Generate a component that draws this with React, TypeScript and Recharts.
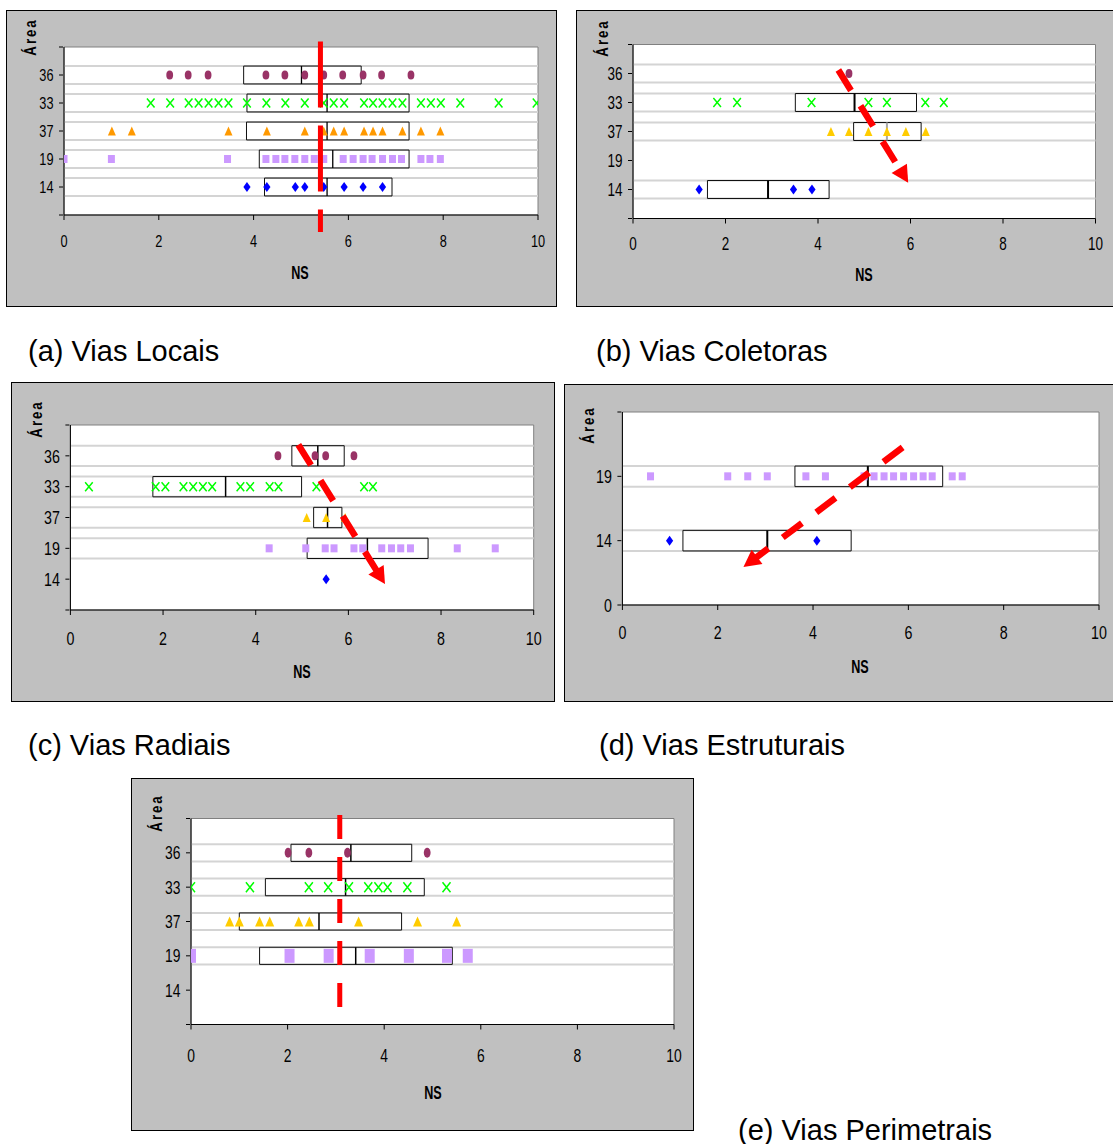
import React from 'react'
import { ScatterChart, Scatter, XAxis, YAxis, ReferenceArea, ReferenceLine } from 'recharts'

const SANS = '"Liberation Sans", Arial, sans-serif'
const SQUEEZE = 0.75

const nsTicks = [0, 2, 4, 6, 8, 10]
// y position 1..5, bottom to top
const areaLabels = ['', '14', '19', '37', '33', '36', '']
const areaTicks = [0, 1, 2, 3, 4, 5, 6]
const estLabels = ['0', '14', '19', '']
const estTicks = [0, 1, 2, 3]

// (a) Vias Locais
const locais36 = [2.23, 2.62, 3.04, 4.26, 4.66, 5.08, 5.48, 5.88, 6.31, 6.7, 7.32]
const locais33 = [1.83, 2.24, 2.63, 2.84, 3.05, 3.26, 3.47, 3.86, 4.27, 4.67, 5.08, 5.48, 5.69, 5.91, 6.33, 6.52, 6.72, 6.93, 7.14, 7.53, 7.74, 7.95, 8.36, 9.17, 9.97]
const locais37 = [1.01, 1.43, 3.47, 4.28, 5.08, 5.48, 5.69, 5.91, 6.33, 6.52, 6.72, 7.14, 7.53, 7.94]
const locais19 = [0, 1.0, 3.45, 4.26, 4.47, 4.66, 4.87, 5.08, 5.28, 5.48, 5.89, 6.1, 6.31, 6.5, 6.72, 6.93, 7.12, 7.53, 7.72, 7.94]
const locais14 = [3.86, 4.28, 4.88, 5.08, 5.48, 5.91, 6.31, 6.72]
const locaisBoxes = [[3.79, 5.01, 6.27], [3.86, 5.55, 7.28], [3.85, 5.55, 7.28], [4.12, 5.67, 7.28], [4.23, 5.55, 6.92]]
const locaisMedia = 5.41

// (b) Vias Coletoras
const coletoras36 = [4.67]
const coletoras33 = [1.82, 2.25, 3.86, 5.09, 5.49, 6.32, 6.72]
const coletoras37 = [4.28, 4.67, 5.09, 5.49, 5.9, 6.33]
const coletoras19: number[] = []
const coletoras14 = [1.43, 3.47, 3.87]
const coletorasBoxes = [null, [3.51, 4.79, 6.13], [4.77, 5.49, 6.23], null, [1.61, 2.92, 4.24]]
const coletorasSeta = [4.44, 5.12, 5.95, 1.23]

// (c) Vias Radiais
const radiais36 = [4.48, 5.28, 5.51, 6.12]
const radiais33 = [0.4, 1.84, 2.05, 2.44, 2.65, 2.86, 3.06, 3.67, 3.88, 4.3, 4.49, 5.31, 6.34, 6.53]
const radiais37 = [5.1, 5.52, 5.93]
const radiais19 = [4.29, 5.08, 5.5, 5.69, 6.12, 6.31, 6.72, 6.93, 7.13, 7.34, 8.35, 9.17]
const radiais14 = [5.52]
const radiaisBoxes = [[4.78, 5.34, 5.91], [1.78, 3.35, 4.99], [5.25, 5.55, 5.86], [5.11, 6.41, 7.72], null]
const radiaisSeta = [4.92, 5.36, 6.79, 0.84]

// (d) Vias Estruturais
const estruturais19 = [0.59, 2.21, 2.63, 3.04, 3.85, 4.26, 5.07, 5.28, 5.49, 5.69, 5.9, 6.11, 6.31, 6.5, 6.92, 7.13]
const estruturais14 = [0.99, 4.08]
const estruturaisBoxes = [[3.62, 5.15, 6.72], [1.27, 3.04, 4.8]]
const estruturaisSeta = [5.88, 2.45, 2.54, 0.59]

// (e) Vias Perimetrais
const perimetrais36 = [2.01, 2.44, 3.24, 4.89]
const perimetrais33 = [0, 1.22, 2.44, 2.84, 3.27, 3.67, 3.88, 4.07, 4.48, 5.29]
const perimetrais37 = [0.8, 1.0, 1.42, 1.63, 2.23, 2.45, 3.47, 4.69, 5.5]
const perimetrais19 = [0, 2.04, 2.85, 3.7, 4.51, 5.3, 5.73]
const perimetrais14: number[] = []
const perimetraisBoxes = [[2.07, 3.31, 4.57], [1.54, 3.2, 4.83], [1.0, 2.65, 4.36], [1.42, 3.41, 5.41], null]
const perimetraisMedia = 3.08

type Kind = 'circle' | 'x' | 'triangle' | 'square' | 'diamond'

interface Row {
  y: number
  values: number[]
  kind: Kind
  color: string
  box: number[] | null
  band: boolean
  medianColor?: string
}

interface PanelSpec {
  frame: number[]
  plot: number[]
  yDomain: number[]
  yTicks: number[]
  yLabels: string[]
  rows: Row[]
  bandHalf: number
  fontSize: number
  labelOffset: number
  big?: boolean
  medianWidth: number
  refLine?: { x: number; top: number; bottom: number; dash: string }
  arrow?: number[]
  areaPos: number[]
  nsPos: number[]
}

const kinds: Kind[] = ['circle', 'x', 'triangle', 'square', 'diamond']
const colors = ['#993366', '#00FF00', '#FFCC00', '#CC99FF', '#0000FF']

function fiveRows(values: number[][], boxes: (number[] | null)[], bands: boolean[], triColor = '#FFCC00'): Row[] {
  return values.map((v, i) => ({
    y: 5 - i,
    values: v,
    kind: kinds[i],
    color: i === 2 ? triColor : colors[i],
    box: boxes[i],
    band: bands[i],
  }))
}

function markerShape(kind: Kind, color: string, big: boolean) {
  return (p: any) => {
    const { cx, cy } = p
    if (cx == null || cy == null) return <g />
    if (kind === 'circle') {
      return <ellipse cx={cx} cy={cy} rx={3.4} ry={big ? 5 : 4.5} fill={color} />
    }
    if (kind === 'x') {
      const w = big ? 4 : 3.8
      const h = big ? 5 : 4.5
      return (
        <path
          d={`M${cx - w},${cy - h}L${cx + w},${cy + h}M${cx - w},${cy + h}L${cx + w},${cy - h}`}
          stroke={color}
          strokeWidth={1.5}
          fill="none"
        />
      )
    }
    if (kind === 'triangle') {
      const w = big ? 4.5 : 4
      const h = big ? 10 : 9
      return <path d={`M${cx},${cy - h / 2}L${cx + w},${cy + h / 2}L${cx - w},${cy + h / 2}Z`} fill={color} />
    }
    if (kind === 'square') {
      const w = big ? 10 : 7
      const h = big ? 14 : 8
      return <rect x={cx - w / 2} y={cy - h / 2} width={w} height={h} fill={color} />
    }
    return <path d={`M${cx},${cy - 5}L${cx + 3.6},${cy}L${cx},${cy + 5}L${cx - 3.6},${cy}Z`} fill={color} />
  }
}

function yTick(labels: string[], fontSize: number) {
  return (p: any) => {
    const { x, y, payload } = p
    const label = labels[payload.value] ?? ''
    return (
      <g>
        <line x1={x - 5} x2={x - 1} y1={y} y2={y} stroke="#000" strokeWidth={1} />
        {label && (
          <text
            transform={`translate(${x - 10.5},${y + 0.358 * fontSize}) scale(${SQUEEZE},1)`}
            textAnchor="end"
            fontSize={fontSize}
            fontFamily={SANS}
            fill="#000"
          >
            {label}
          </text>
        )}
      </g>
    )
  }
}

function xTick(fontSize: number, offset: number) {
  return (p: any) => {
    const { x, y, payload } = p
    // y arrives as axis line + tick length (5)
    return (
      <text
        transform={`translate(${x},${y - 5 + offset + 0.358 * fontSize}) scale(${SQUEEZE},1)`}
        textAnchor="middle"
        fontSize={fontSize}
        fontFamily={SANS}
        fill="#000"
      >
        {payload.value}
      </text>
    )
  }
}

const arrowShape = (p: any) => {
  const { x1, y1, x2, y2 } = p
  if (x1 == null) return <g />
  const dx = x2 - x1
  const dy = y2 - y1
  const len = Math.sqrt(dx * dx + dy * dy)
  const ux = dx / len
  const uy = dy / len
  const head = 17
  const half = 9
  const bx = x2 - ux * head
  const by = y2 - uy * head
  return (
    <g>
      <line x1={x1} y1={y1} x2={bx + ux * 2} y2={by + uy * 2} stroke="#FF0000" strokeWidth={6.5} strokeDasharray="24 18" />
      <polygon
        points={`${x2},${y2} ${bx - uy * half},${by + ux * half} ${bx + uy * half},${by - ux * half}`}
        fill="#FF0000"
      />
    </g>
  )
}

function Panel({ spec }: { spec: PanelSpec }) {
  const [fl, ft, fw, fh] = spec.frame
  const ox = fl + 1
  const oy = ft + 1
  const w = fw - 2
  const h = fh - 2
  const [pl, pt, pr, pb] = spec.plot
  const yW = pl - ox
  const xH = oy + h - pb
  const margin = { top: pt - oy, right: ox + w - pr, bottom: 0, left: 0 }
  const hb = spec.bandHalf
  const [y0, y1] = spec.yDomain

  return (
    <div
      style={{
        position: 'absolute',
        left: fl,
        top: ft,
        width: fw,
        height: fh,
        boxSizing: 'border-box',
        border: '1px solid #000',
        background: '#C0C0C0',
      }}
    >
      <ScatterChart width={w} height={h} margin={margin}>
        <ReferenceArea x1={0} x2={10} y1={y0} y2={y1} fill="#FFFFFF" fillOpacity={1} stroke="#808080" strokeWidth={1} zIndex={-200} />
        {spec.rows.filter((r) => r.band).map((r) => (
          <ReferenceLine key={`bt${r.y}`} y={r.y + hb} stroke="#D4D4D4" strokeWidth={2} zIndex={50} />
        ))}
        {spec.rows.filter((r) => r.band).map((r) => (
          <ReferenceLine key={`bb${r.y}`} y={r.y - hb} stroke="#D4D4D4" strokeWidth={2} zIndex={50} />
        ))}
        {spec.rows.filter((r) => r.box).map((r) => (
          <ReferenceArea
            key={`box${r.y}`}
            x1={r.box![0]}
            x2={r.box![2]}
            y1={r.y - hb}
            y2={r.y + hb}
            fill="none"
            fillOpacity={0}
            stroke="#111"
            strokeWidth={1}
            zIndex={60}
          />
        ))}
        {spec.rows.filter((r) => r.box).map((r) => (
          <ReferenceLine
            key={`med${r.y}`}
            segment={[{ x: r.box![1], y: r.y - hb }, { x: r.box![1], y: r.y + hb }]}
            stroke={r.medianColor ?? '#000'}
            strokeWidth={spec.medianWidth}
            zIndex={61}
          />
        ))}
        <XAxis
          type="number"
          dataKey="x"
          domain={[0, 10]}
          ticks={nsTicks}
          interval={0}
          allowDataOverflow
          height={xH}
          tickSize={5}
          tickMargin={0}
          tick={xTick(spec.fontSize, spec.labelOffset)}
          axisLine={{ stroke: '#000' }}
          tickLine={{ stroke: '#000' }}
        />
        <YAxis
          type="number"
          dataKey="y"
          domain={spec.yDomain}
          ticks={spec.yTicks}
          interval={0}
          allowDataOverflow
          width={yW}
          tickSize={0}
          tickMargin={0}
          tickLine={false}
          tick={yTick(spec.yLabels, spec.fontSize)}
          axisLine={{ stroke: '#000' }}
        />
        {spec.rows.filter((r) => r.values.length > 0).map((r) => (
          <Scatter
            key={`s${r.y}`}
            data={r.values.map((v) => ({ x: v, y: r.y }))}
            shape={markerShape(r.kind, r.color, !!spec.big)}
            isAnimationActive={false}
          />
        ))}
        {spec.refLine && (
          <ReferenceLine
            segment={[{ x: spec.refLine.x, y: spec.refLine.top }, { x: spec.refLine.x, y: spec.refLine.bottom }]}
            stroke="#FF0000"
            strokeWidth={5}
            strokeDasharray={spec.refLine.dash}
            ifOverflow="visible"
            zIndex={700}
          />
        )}
        {spec.arrow && (
          <ReferenceLine
            segment={[{ x: spec.arrow[0], y: spec.arrow[1] }, { x: spec.arrow[2], y: spec.arrow[3] }]}
            shape={arrowShape}
            ifOverflow="visible"
            zIndex={700}
          />
        )}
      </ScatterChart>
      <div
        style={{
          position: 'absolute',
          left: spec.areaPos[0] - ox,
          top: spec.areaPos[1] - oy,
          transform: 'translate(-50%, -50%) rotate(-90deg) scaleX(0.78)',
          fontFamily: SANS,
          fontWeight: 'bold',
          fontSize: 17,
          letterSpacing: 2.5,
          whiteSpace: 'nowrap',
          lineHeight: '18px',
        }}
      >
        Área
      </div>
      <div
        style={{
          position: 'absolute',
          left: spec.nsPos[0] - ox,
          top: spec.nsPos[1] - oy,
          transform: 'translate(-50%, -50%) scaleX(0.72)',
          fontFamily: SANS,
          fontWeight: 'bold',
          fontSize: 17.5,
          whiteSpace: 'nowrap',
          lineHeight: '18px',
        }}
      >
        NS
      </div>
    </div>
  )
}

function Caption({ x, y, text }: { x: number; y: number; text: string }) {
  return (
    <div
      style={{
        position: 'absolute',
        left: x - 2,
        top: y - 16.5,
        fontFamily: SANS,
        fontSize: 29,
        lineHeight: '32px',
        whiteSpace: 'nowrap',
        color: '#000',
      }}
    >
      {text}
    </div>
  )
}

const panelA: PanelSpec = {
  frame: [6, 10, 551, 297],
  plot: [64, 47, 538, 215],
  yDomain: [0, 6],
  yTicks: areaTicks,
  yLabels: areaLabels,
  rows: fiveRows([locais36, locais33, locais37, locais19, locais14], locaisBoxes, [true, true, true, true, true], '#FF9900'),
  bandHalf: 0.32,
  fontSize: 17,
  labelOffset: 25.7,
  medianWidth: 1.3,
  refLine: { x: locaisMedia, top: 6.2, bottom: -0.61, dash: '66 18' },
  areaPos: [31, 37],
  nsPos: [300, 273],
}

const rowsB = fiveRows([coletoras36, coletoras33, coletoras37, coletoras19, coletoras14], coletorasBoxes, [true, true, true, false, true])
rowsB[2].medianColor = '#A8A8A8'

const panelB: PanelSpec = {
  frame: [576, 10, 545, 297],
  plot: [633, 44.5, 1095.5, 218.5],
  yDomain: [0, 6],
  yTicks: areaTicks,
  yLabels: areaLabels,
  rows: rowsB,
  bandHalf: 0.31,
  fontSize: 18,
  labelOffset: 24.8,
  medianWidth: 2,
  arrow: coletorasSeta,
  areaPos: [603, 38],
  nsPos: [864, 275],
}

const panelC: PanelSpec = {
  frame: [11, 382, 544, 320],
  plot: [70.4, 425, 533.7, 610],
  yDomain: [0, 6],
  yTicks: areaTicks,
  yLabels: areaLabels,
  rows: fiveRows([radiais36, radiais33, radiais37, radiais19, radiais14], radiaisBoxes, [true, true, true, true, false]),
  bandHalf: 0.33,
  fontSize: 19,
  labelOffset: 28,
  medianWidth: 1.5,
  arrow: radiaisSeta,
  areaPos: [37, 419],
  nsPos: [302, 672],
}

const panelD: PanelSpec = {
  frame: [564, 384, 552, 318],
  plot: [622.4, 412, 1099, 605],
  yDomain: [0, 3],
  yTicks: estTicks,
  yLabels: estLabels,
  rows: [
    { y: 2, values: estruturais19, kind: 'square', color: '#CC99FF', box: estruturaisBoxes[0], band: true },
    { y: 1, values: estruturais14, kind: 'diamond', color: '#0000FF', box: estruturaisBoxes[1], band: true },
  ],
  bandHalf: 0.16,
  fontSize: 19,
  labelOffset: 27.3,
  medianWidth: 2,
  arrow: estruturaisSeta,
  areaPos: [589, 425],
  nsPos: [860, 667],
}

const panelE: PanelSpec = {
  frame: [131, 778, 563, 353],
  plot: [191, 818.5, 674, 1024.5],
  yDomain: [0, 6],
  yTicks: areaTicks,
  yLabels: areaLabels,
  rows: fiveRows([perimetrais36, perimetrais33, perimetrais37, perimetrais19, perimetrais14], perimetraisBoxes, [true, true, true, true, false]),
  bandHalf: 0.25,
  fontSize: 18.5,
  labelOffset: 30.5,
  big: true,
  medianWidth: 1.5,
  refLine: { x: perimetraisMedia, top: 6.1, bottom: 0.51, dash: '24 18' },
  areaPos: [157, 813],
  nsPos: [433, 1093],
}

export default function App() {
  return (
    <div
      style={{
        position: 'absolute',
        left: 0,
        top: 0,
        width: 1113,
        height: 1144,
        overflow: 'hidden',
        background: '#FFFFFF',
      }}
    >
      <Panel spec={panelA} />
      <Panel spec={panelB} />
      <Panel spec={panelC} />
      <Panel spec={panelD} />
      <Panel spec={panelE} />
      <Caption x={30} y={351} text="(a) Vias Locais" />
      <Caption x={598} y={351} text="(b) Vias Coletoras" />
      <Caption x={30} y={745} text="(c) Vias Radiais" />
      <Caption x={601} y={745} text="(d) Vias Estruturais" />
      <Caption x={740} y={1130} text="(e) Vias Perimetrais" />
    </div>
  )
}
